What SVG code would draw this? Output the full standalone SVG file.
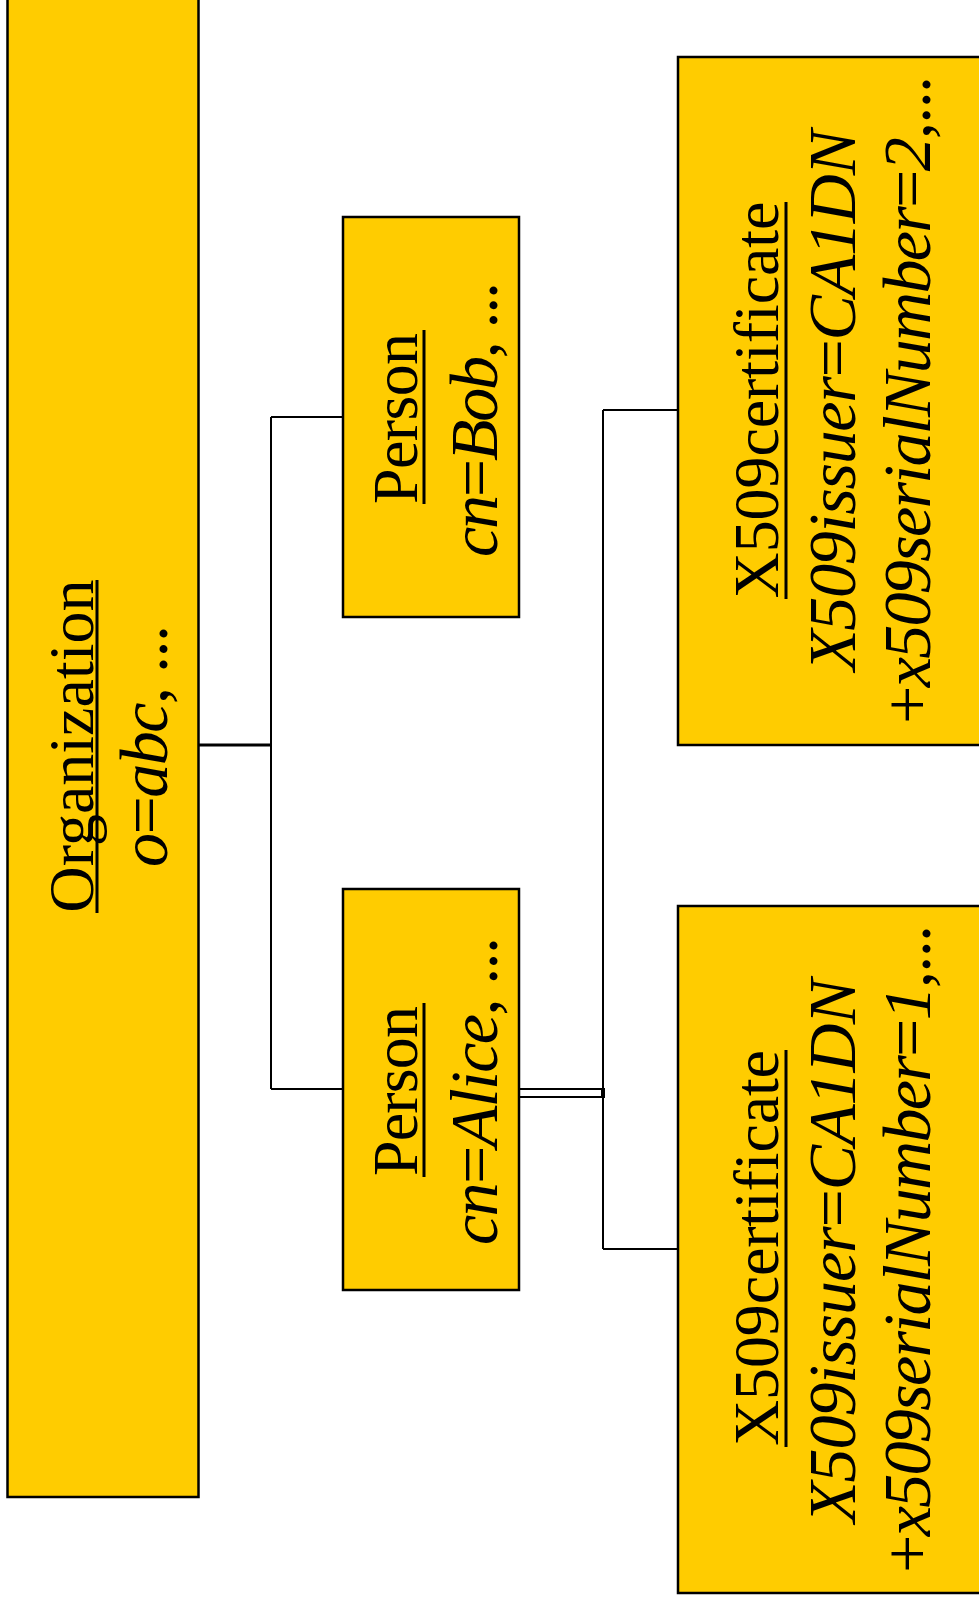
<svg xmlns="http://www.w3.org/2000/svg" width="979" height="1602" viewBox="0 0 979 1602">
<style>
.box{fill:#FFCC00;stroke:#000;stroke-width:2.5}
.conn{stroke:#000;stroke-width:2;fill:none}
.ul{stroke:#000;stroke-width:3}
.t{font-family:"Liberation Serif","Times New Roman",serif;fill:#000;text-anchor:middle}
.h{font-size:64px}
.m{font-size:68px}
.i{font-style:italic}
</style>
<rect width="979" height="1602" fill="#fff"/>
<g id="connectors">
<line class="conn" x1="199" y1="745" x2="271" y2="745" style="stroke-width:3"/>
<line class="conn" x1="271" y1="417" x2="271" y2="1089"/>
<line class="conn" x1="271" y1="417" x2="343" y2="417"/>
<line class="conn" x1="271" y1="1089" x2="343" y2="1089"/>
<line class="conn" x1="519" y1="1089" x2="603" y2="1089"/>
<line class="conn" x1="519" y1="1097" x2="603" y2="1097"/>
<rect x="601" y="1088" width="4" height="10" fill="#000"/>
<line class="conn" x1="603" y1="410" x2="603" y2="1249"/>
<line class="conn" x1="603" y1="410" x2="678" y2="410"/>
<line class="conn" x1="603" y1="1249" x2="678" y2="1249"/>
</g>
<g id="organization">
<rect class="box" x="7.5" y="-10" width="191" height="1507"/>
<text class="t h" transform="translate(93,746) rotate(-90)" textLength="333" lengthAdjust="spacing">Organization</text>
<line class="ul" x1="97" y1="580" x2="97" y2="913"/>
<text class="t m" transform="translate(167,746) rotate(-90)" textLength="242" lengthAdjust="spacing"><tspan class="i">o</tspan>=<tspan class="i">abc</tspan>, ...</text>
</g>
<g id="person-bob">
<rect class="box" x="343" y="217" width="176" height="400"/>
<text class="t h" transform="translate(417,418.5) rotate(-90)" textLength="171" lengthAdjust="spacing">Person</text>
<line class="ul" x1="424" y1="330" x2="424" y2="504"/>
<text class="t m" transform="translate(497,419.5) rotate(-90)" textLength="275" lengthAdjust="spacing"><tspan class="i">cn</tspan>=<tspan class="i">Bob</tspan>, ...</text>
</g>
<g id="person-alice">
<rect class="box" x="343" y="889" width="176" height="401"/>
<text class="t h" transform="translate(417,1091) rotate(-90)" textLength="170" lengthAdjust="spacing">Person</text>
<line class="ul" x1="424" y1="1003" x2="424" y2="1177"/>
<text class="t m" transform="translate(497,1091) rotate(-90)" textLength="308" lengthAdjust="spacing"><tspan class="i">cn</tspan>=<tspan class="i">Alice</tspan>, ...</text>
</g>
<g id="cert-2">
<rect class="box" x="678" y="57" width="320" height="688"/>
<text class="t h" transform="translate(778,400) rotate(-90)" textLength="397" lengthAdjust="spacing">X509certificate</text>
<line class="ul" x1="786" y1="202" x2="786" y2="599"/>
<text class="t m" transform="translate(855,400.5) rotate(-90)" textLength="541" lengthAdjust="spacing"><tspan class="i">X509issuer</tspan>=<tspan class="i">CA1DN</tspan></text>
<text class="t m" transform="translate(930,400) rotate(-90)" textLength="648" lengthAdjust="spacing">+<tspan class="i">x509serialNumber</tspan>=<tspan class="i">2</tspan>,...</text>
</g>
<g id="cert-1">
<rect class="box" x="678" y="906" width="320" height="687"/>
<text class="t h" transform="translate(778,1248) rotate(-90)" textLength="396" lengthAdjust="spacing">X509certificate</text>
<line class="ul" x1="786" y1="1050" x2="786" y2="1447"/>
<text class="t m" transform="translate(855,1251) rotate(-90)" textLength="544" lengthAdjust="spacing"><tspan class="i">X509issuer</tspan>=<tspan class="i">CA1DN</tspan></text>
<text class="t m" transform="translate(930,1249) rotate(-90)" textLength="648" lengthAdjust="spacing">+<tspan class="i">x509serialNumber</tspan>=<tspan class="i">1</tspan>,...</text>
</g>
</svg>
